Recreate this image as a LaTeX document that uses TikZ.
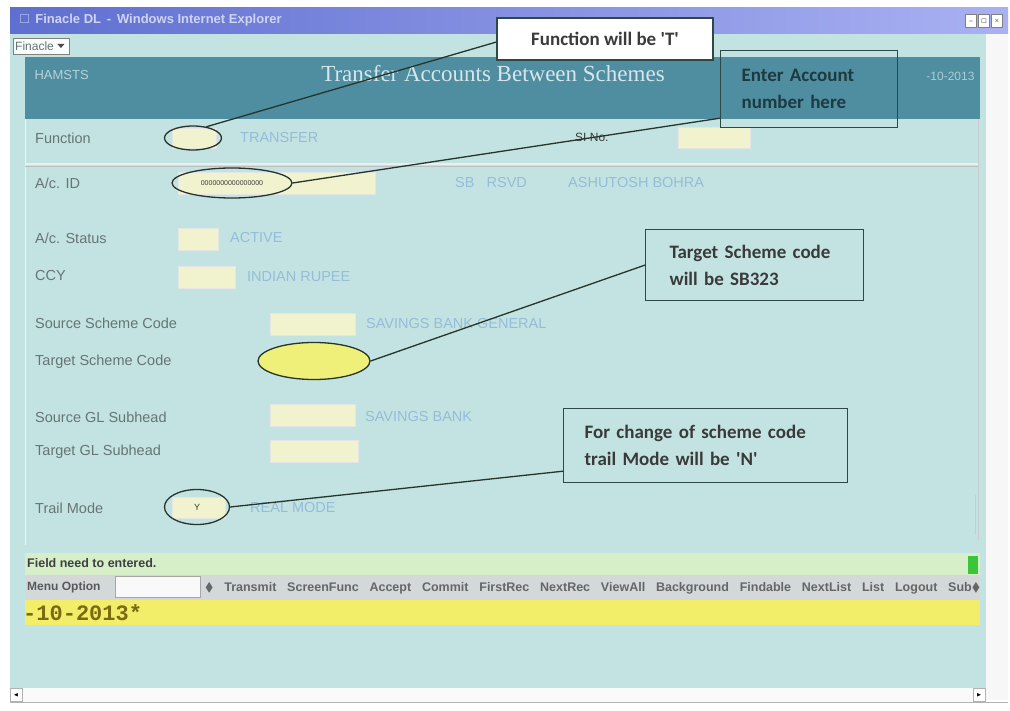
\documentclass[tikz,border=0pt]{standalone}
\usepackage{amssymb}
\usepackage{fontspec}
\setmainfont{Liberation Sans}
\newfontfamily\calfont{Carlito}
\newfontfamily\serfont{Liberation Serif}
\newfontfamily\monofont{Liberation Mono}
\usetikzlibrary{shapes.geometric,calc}
\definecolor{bgcyan}{HTML}{C3E3E2}
\definecolor{hdr}{HTML}{4E8EA0}
\definecolor{tbL}{HTML}{5F6FD0}
\definecolor{tbR}{HTML}{A9B1F2}
\definecolor{fieldy}{HTML}{F1F3CF}
\definecolor{fadeblue}{HTML}{95BCD8}
\definecolor{lblgray}{HTML}{667474}
\definecolor{ellb}{HTML}{26342C}
\definecolor{callb}{HTML}{2E4846}
\definecolor{calltxt}{HTML}{3A3A3A}
\definecolor{greenbar}{HTML}{D6EFC8}
\definecolor{menubar}{HTML}{D4D8D8}
\definecolor{yelbar}{HTML}{F2EE6A}
\definecolor{datetxt}{HTML}{7A6A10}
\definecolor{tyell}{HTML}{EEF07A}
\tikzset{
  lbl/.style={anchor=west, text=lblgray, font=\fontsize{14.5}{16}\selectfont, inner sep=0pt},
  fade/.style={anchor=west, text=fadeblue, font=\fontsize{14.5}{16}\selectfont, inner sep=0pt},
  field/.style={fill=fieldy, draw=white!80!gray, line width=0.4pt},
  ring/.style={ellipse, draw=ellb, line width=1.3pt, inner sep=0pt},
  callout/.style={draw=callb, line width=1.2pt, text=calltxt, font=\calfont\fontsize{19}{27}\selectfont\bfseries, align=left, inner sep=0pt},
  conn/.style={draw=ellb, line width=1.3pt},
  wbtn/.style={draw=gray, fill=white, minimum width=11pt, minimum height=13pt, inner sep=0pt, font=\fontsize{6}{6}\selectfont}
}
\newcommand\mgap{\hspace{10.8pt}}
\begin{document}
\begin{tikzpicture}[x=1pt,y=-1pt]
\useasboundingbox (0,0) rectangle (1010,711);
\fill[white] (0,0) rectangle (1010,711);
% title bar
\shade[left color=tbL, right color=tbR] (10,8) rectangle (1008,34);
\node[anchor=west, text=white!70!tbL, font=\fontsize{13}{14}\selectfont\bfseries] (wintitle) at (16,20) {$\square$ \,Finacle DL \,- \,Windows Internet Explorer};
\node[wbtn] (bmin) at (971,21) {\_};
\node[wbtn] (bmax) at (984,21) {$\square$};
\node[wbtn] (bcls) at (997,21) {$\times$};
% window body
\fill[bgcyan] (10,34) rectangle (985,688);
\fill[white!94!gray] (985,34) rectangle (1008,700);
\draw[white!70!gray] (985,34) -- (985,700);
% dropdown
\node[draw=gray, fill=white!88!bgcyan, anchor=west, inner sep=2pt, minimum height=16pt, text=lblgray, font=\fontsize{12}{13}\selectfont] (fin) at (13,46) {Finacle \ \ \ \ };
\fill[black!70] ($(fin.east)+(-12,-2)$) -- ++(7,0) -- ++(-3.5,4) -- cycle;
% header band
\fill[hdr] (25,57) rectangle (980,119);
\node[anchor=west, text=white!60!hdr, font=\fontsize{13}{14}\selectfont] (hcode) at (31,75) {HAMSTS};
\node[text=white!78!hdr, font=\serfont\fontsize{23}{25}\selectfont] (htitle) at (493,74) {Transfer Accounts Between Schemes};
\node[anchor=east, text=white!55!hdr, font=\fontsize{12}{13}\selectfont] (hdate) at (978,76) {-10-2013};
% form frame
\draw[white!65!bgcyan, line width=1pt] (25,119) -- (25,545);
\draw[white!60!gray, line width=0.8pt] (978,119) -- (978,540);
\draw[white!55!bgcyan, line width=1.2pt] (25,164) -- (978,164);
\draw[gray!50, line width=0.5pt] (25,166) -- (978,166);
% Function row
\node[lbl] (lfun) at (35,138) {Function};
\fill[field] (172,128) rectangle (216,148);
\node[ring, minimum width=57pt, minimum height=24pt] (efun) at (193,138) {};
\node[fade] (vfun) at (240,138) {TRANSFER};
\node[anchor=west, text=calltxt, font=\fontsize{12}{13}\selectfont, inner sep=0pt] (lsi) at (575,137) {SI No.};
\fill[field] (678,127) rectangle (750,148);
% A/c ID row
\node[lbl] (lacid) at (35,183) {A/c. ID};
\fill[field] (178,172) rectangle (375,194);
\node[ring, minimum width=120pt, minimum height=30pt, font=\fontsize{7}{7}\selectfont, text=calltxt] (eacid) at (232,183) {0000000000000000};
\node[fade] (vsb) at (455,183) {SB \ \ RSVD};
\node[fade] (vname) at (568,183) {ASHUTOSH BOHRA};
% A/c Status
\node[lbl] (lstat) at (35,238) {A/c. Status};
\fill[field] (178,228) rectangle (218,250);
\node[fade] (vstat) at (230,238) {ACTIVE};
% CCY
\node[lbl] (lccy) at (35,276) {CCY};
\fill[field] (178,266) rectangle (235,288);
\node[fade] (vccy) at (247,277) {INDIAN RUPEE};
% Source Scheme Code
\node[lbl] (lssc) at (35,323) {Source Scheme Code};
\fill[field] (270,313) rectangle (355,335);
\node[fade] (vssc) at (366,324) {SAVINGS BANK GENERAL};
% Target Scheme Code
\node[lbl] (ltsc) at (35,362) {Target Scheme Code};
\node[ring, fill=tyell, minimum width=112pt, minimum height=37pt] (etsc) at (314,361) {};
% Source GL
\node[lbl] (lsgl) at (35,417) {Source GL Subhead};
\fill[field] (270,404) rectangle (355,426);
\node[fade] (vsgl) at (365,417) {SAVINGS BANK};
% Target GL
\node[lbl] (ltgl) at (35,452) {Target GL Subhead};
\fill[field] (270,440) rectangle (358,462);
% Trail Mode
\node[lbl] (ltm) at (35,508) {Trail Mode};
\fill[field] (172,497) rectangle (225,518);
\node[ring, minimum width=65pt, minimum height=35pt, font=\fontsize{9}{9}\selectfont, text=calltxt] (etm) at (197,507) {Y\hspace{30pt}};
\node[fade] (vtm) at (250,508) {REAL MODE};
\draw[white!60!gray, line width=0.8pt] (975,495) -- (975,535);
% status bars
\fill[greenbar] (25,553) rectangle (980,575);
\fill[green!55!gray] (968,556) rectangle (978,574);
\node[anchor=west, text=black!75, font=\fontsize{12.5}{13}\selectfont\bfseries, inner sep=0pt] (fneed) at (27,563) {Field need to entered.};
\fill[menubar] (25,575) rectangle (980,600);
\node[anchor=west, text=black!65, font=\fontsize{12}{13}\selectfont\bfseries, inner sep=0pt] (mopt) at (27,587) {Menu Option};
\node[draw=gray!70, fill=white!85!menubar, minimum width=85pt, minimum height=21pt, inner sep=0pt] (mbox) at (158,587) {};
\node[anchor=west, text=black!60, font=\fontsize{12.5}{13}\selectfont\bfseries, inner sep=0pt] (mitems) at (205,588) {$\blacklozenge$\mgap Transmit\mgap ScreenFunc\mgap Accept\mgap Commit\mgap FirstRec\mgap NextRec\mgap ViewAll\mgap Background\mgap Findable\mgap NextList\mgap List\mgap Logout\mgap Sub$\blacklozenge$};
\fill[yelbar] (25,600) rectangle (980,625);
\node[anchor=west, text=datetxt, font=\monofont\fontsize{22}{23}\selectfont\bfseries, inner sep=0pt] (ydate) at (23,613) {-10-2013*};
% bottom scrollbar
\fill[white!96!gray] (10,688) rectangle (985,702);
\draw[gray!60] (10,702) -- (1008,702);
\node[draw=gray!60, fill=white, minimum width=12pt, minimum height=13pt, inner sep=0pt, font=\fontsize{5}{5}\selectfont] (sbl) at (16,695) {$\blacktriangleleft$};
\node[draw=gray!60, fill=white, minimum width=12pt, minimum height=13pt, inner sep=0pt, font=\fontsize{5}{5}\selectfont] (sbr) at (979,695) {$\blacktriangleright$};
% callouts
\node[callout, fill=white, minimum width=216pt, minimum height=42pt, align=center] (c1) at (605,39) {Function will be 'T'};
\node[callout, text=hdr!40!black, minimum width=177pt, minimum height=77pt, anchor=north west, text width=175pt] (c2) at (720,50) {\hspace*{20pt}Enter Account\\ \hspace*{20pt}number here};
\node[callout, minimum width=218pt, minimum height=71pt, anchor=north west, text width=216pt] (c3) at (645,229) {\hspace*{23pt}Target Scheme code\\ \hspace*{23pt}will be SB323};
\node[callout, minimum width=284pt, minimum height=74pt, anchor=north west, text width=282pt] (c4) at (563,408) {\hspace*{20pt}For change of scheme code\\ \hspace*{20pt}trail Mode will be 'N'};
% connectors
\draw[conn] ($(c1.west)+(0,3)$) -- (efun.40);
\draw[conn] ($(c2.south west)+(0,-10)$) -- (eacid.east);
\draw[conn] (c3.west) -- (etsc.east);
\draw[conn] ($(c4.south west)+(0,-12)$) -- (etm.east);
\end{tikzpicture}
\end{document}
